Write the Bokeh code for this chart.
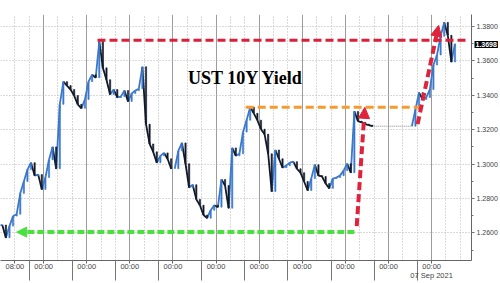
import numpy as np
from bokeh.plotting import figure
from bokeh.models import (Range1d, FixedTicker, Grid, Label, Arrow, NormalHead,
                          ColumnDataSource, NumeralTickFormatter)
from bokeh.embed import file_html
from bokeh.resources import INLINE

# ---- data (trading-hour axis, weekends removed; hours from 24 Aug 00:00) ----
hours = list(range(1, 254, 2))
closes = [
    1.2646, 1.2572, 1.2640, 1.2698, 1.2709, 1.2830, 1.2899, 1.2968, 1.3008, 1.2933,
    1.2939, 1.2853, 1.2922, 1.3025, 1.3100, 1.2973, 1.3347, 1.3479, 1.3456, 1.3433,
    1.3398, 1.3347, 1.3324, 1.3375, 1.3479, 1.3519, 1.3502, 1.3712, 1.3559, 1.3490,
    1.3404, 1.3433, 1.3387, 1.3392, 1.3427, 1.3364, 1.3410, 1.3427, 1.3438, 1.3565,
    1.3232, 1.3117, 1.3071, 1.3008, 1.3048, 1.3065, 1.3031, 1.2973, None, 1.3077,
    1.3123, 1.3002, 1.2864, 1.2880, 1.2795, 1.2761, 1.2704, 1.2686, 1.2732, 1.2761,
    1.2750, 1.2910, 1.2876, 1.2744, 1.3094, 1.3048, 1.3060, 1.3186, 1.3255, 1.3330,
    1.3295, 1.3255, 1.3203, 1.3174, 1.3060, 1.2841, 1.3082, 1.3031, 1.2979, 1.2991,
    1.3008, 1.3014, 1.2973, 1.2950, 1.2899, 1.2847, 1.2916, 1.2996, 1.2933, 1.2928,
    1.2887, 1.2859, 1.2916, 1.2922, 1.2933, 1.2962, 1.3002, 1.2950, 1.3306, 1.3249,
    1.3243, 1.3232, 1.3226, 1.3220, None, None, None, None, None, None,
    None, None, None, None, None, 1.3318, 1.3415, 1.3375, 1.3387, 1.3433,
    1.3576, 1.3634, 1.3743, 1.3823, 1.3748, 1.3593, 1.3698,
]
last_value = 1.3698

y_ticks = [1.26, 1.28, 1.30, 1.32, 1.34, 1.36, 1.38]
day_ticks = [24 * d for d in range(1, 11)]
x_labels = {8: "08:00", **{t: "00:00" for t in day_ticks}}
x_labels[240] = "00:00\n07 Sep 2021"
title_text = "UST 10Y Yield"

# annotation levels
prior_high = 1.3720
prior_high_span = (54, 259)
range_top = 1.3330
range_top_span = (136.5, 236)
range_low = 1.2605
range_low_span = (197, 9)
jump1 = ((198.3, 1.2640), (202.8, 1.3330))
jump2 = ((232.2, 1.3232), (243.9, 1.3806))

X0, X1 = 0, 262.2
Y0, Y1 = 1.2440, 1.3869

# ---- build candles (open = previous close) ----
t_list, o_list, c_list = [], [], []
prev = None
for t, c in zip(hours, closes):
    if c is None:
        continue
    o = prev if prev is not None else c
    t_list.append(t); o_list.append(o); c_list.append(c)
    prev = c
t_arr = np.array(t_list, float)
o_arr = np.array(o_list); c_arr = np.array(c_list)
up = c_arr >= o_arr
colors = np.where(up, "#3a78cc", "#121a2a").tolist()
src = ColumnDataSource(dict(
    t=t_arr, t0=t_arr - 2.0, o=o_arr, c=c_arr,
    top=np.maximum(o_arr, c_arr), bot=np.minimum(o_arr, c_arr), color=colors))

p = figure(width=500, height=283, output_backend="svg", toolbar_location=None,
           x_range=Range1d(X0, X1), y_range=Range1d(Y0, Y1),
           y_axis_location="right", min_border_left=0, min_border_top=14,
           min_border_right=28, min_border_bottom=20)
p.outline_line_color = None
p.background_fill_color = "white"
p.border_fill_color = "white"

# grids
p.xgrid.ticker = FixedTicker(ticks=day_ticks)
p.xgrid.grid_line_color = "#9c9c9c"
p.xgrid.grid_line_width = 1
dotted_x = [h for h in range(8, 260, 8) if h % 24 != 0]
p.add_layout(Grid(dimension=0, ticker=FixedTicker(ticks=dotted_x),
                  grid_line_color="#b4b4b4", grid_line_dash="1 2"))
p.ygrid.ticker = FixedTicker(ticks=y_ticks)
p.ygrid.grid_line_color = "#b4b4b4"
p.ygrid.grid_line_dash = "1 2"

# axes
xa = p.xaxis[0]
xa.ticker = FixedTicker(ticks=[8] + day_ticks, minor_ticks=[16 + 24 * d for d in range(10)])
xa.major_label_overrides = x_labels
xa.major_tick_out = 3; xa.major_tick_in = 0
xa.minor_tick_out = 20; xa.minor_tick_in = 0
xa.axis_line_color = "#666666"; xa.major_tick_line_color = "#666666"
xa.minor_tick_line_color = "#777777"
xa.major_label_standoff = -19
xa.major_label_text_font = "Liberation Sans"
xa.major_label_text_font_size = "7.5px"
xa.major_label_text_color = "#444444"
xa.major_label_text_line_height = 1.1

ya = p.yaxis[0]
ya.ticker = FixedTicker(ticks=y_ticks, minor_ticks=[1.25 + 0.01 * i for i in range(14)])
ya.formatter = NumeralTickFormatter(format="0.0000")
ya.major_tick_out = 3; ya.major_tick_in = 0
ya.minor_tick_out = 2; ya.minor_tick_in = 0
ya.axis_line_color = "#666666"; ya.major_tick_line_color = "#666666"
ya.minor_tick_line_color = "#777777"
ya.major_label_standoff = 2
ya.major_label_text_font = "Liberation Sans"
ya.major_label_text_font_size = "7px"
ya.major_label_text_color = "#444444"

# holiday flat connector
p.line([hours[103], hours[114]], [closes[103], closes[103]],
       line_color="#888888", line_dash="1 1", line_width=1)

# price series: candle moves drawn as thin coloured strokes
p.segment(x0="t0", y0="o", x1="t", y1="c", source=src,
          line_color="color", line_width=1.8)
p.vbar(x="t", width=0.7, top="top", bottom="bot", source=src,
       fill_color="color", line_color="color", line_width=0.6)

# annotations
p.segment(x0=[prior_high_span[0]], y0=[prior_high], x1=[prior_high_span[1]], y1=[prior_high],
          line_color="#dc1f37", line_width=3, line_dash="8 4")
p.segment(x0=[range_top_span[0]], y0=[range_top], x1=[range_top_span[1]], y1=[range_top],
          line_color="#f59a2e", line_width=3, line_dash="8 4")
p.add_layout(Arrow(end=NormalHead(size=10, fill_color="#4be040", line_color="#4be040"),
                   x_start=range_low_span[0], y_start=range_low,
                   x_end=range_low_span[1], y_end=range_low,
                   line_color="#4be040", line_width=4, line_dash="7 3"))
for (xs, ys), (xe, ye) in (jump1, jump2):
    p.add_layout(Arrow(end=NormalHead(size=11, fill_color="#e0233a", line_color="#e0233a"),
                       x_start=xs, y_start=ys, x_end=xe, y_end=ye,
                       line_color="#e0233a", line_width=4, line_dash="8 4"))

p.add_layout(Label(x=104.4, y=1.3502, text=title_text, text_baseline="middle",
                   text_font="Liberation Serif", text_font_style="bold",
                   text_font_size="18px", text_color="black"))

# last-price tag, drawn in the right-hand margin from a side panel
p.add_layout(Label(x=474, y=44, x_units="canvas", y_units="canvas",
                   text=f"{last_value:.4f}", text_baseline="middle", text_align="left",
                   text_font="Liberation Sans", text_font_size="7px",
                   text_font_style="bold", text_color="white",
                   background_fill_color="black", padding=1), "above")

open("out.html", "w").write(file_html(p, INLINE))
